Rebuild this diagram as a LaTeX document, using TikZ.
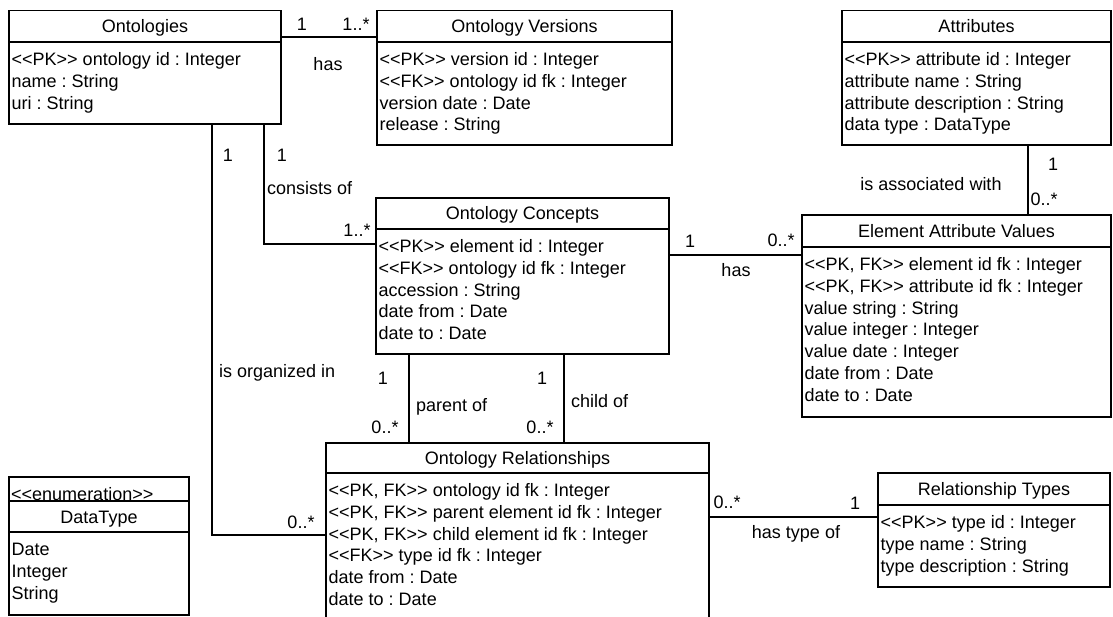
\documentclass[tikz,border=0pt]{standalone}
\usepackage{fontspec}
\newfontfamily\umlfont{Liberation Sans}
\usetikzlibrary{calc}
\frenchspacing
\tikzset{
  umlbox/.style={draw=black, line width=1.3pt, inner sep=0pt, outer sep=0pt, anchor=north west},
  umlframe/.style={inner sep=0pt, outer sep=0pt, anchor=north west},
  umlline/.style={draw=black, line width=1.3pt},
  conn/.style={draw=black, line width=1.2pt},
  umltitle/.style={anchor=base, inner sep=0pt},
  umlattr/.style={anchor=base west, inner sep=0pt},
  lbl/.style={anchor=base, inner sep=0pt},
  lblw/.style={anchor=base west, inner sep=0pt}
}
% #1 name, #2 left, #3 top, #4 right, #5 header line, #6 bottom, #7 title, #8 attributes
\newcommand\umlclass[8]{%
  \node[umlbox, minimum width={#4-#2}, minimum height={#6-#3}] (#1) at (#2,#3) {};
  \draw[umlline] (#1.north west) ++(0,{#5-#3}) -- ++({#4-#2},0);
  \node[umltitle] (#1-title) at ({(#2+#4)/2},{(#3+#5)/2+6.5}) {#7};
  \foreach \t [count=\i] in {#8} {
    \node[umlattr] (#1-a\i) at ({#2+2.5},{#5+23.5+21.8*(\i-1)}) {\t};
  }
}
\begin{document}
\begin{tikzpicture}[x=1pt, y=-1pt, font=\umlfont\fontsize{18pt}{21.8pt}\selectfont\frenchspacing]
\useasboundingbox (0,0) rectangle (1113,617);
\fill[white] (0,0) rectangle (1113,617);

% classes
\umlclass{ont}{9}{10.5}{281}{42}{124}{Ontologies}%
  {{<<PK>> ontology id : Integer},{name : String},{uri : String}}
\umlclass{ver}{377}{10.5}{672}{42}{145}{Ontology Versions}%
  {{<<PK>> version id : Integer},{<<FK>> ontology id fk : Integer},{version date : Date},{release : String}}
\umlclass{attr}{842}{10.5}{1111}{42}{145}{Attributes}%
  {{<<PK>> attribute id : Integer},{attribute name : String},{attribute description : String},{data type : DataType}}
\umlclass{con}{376}{198}{669}{229}{354}{Ontology Concepts}%
  {{<<PK>> element id : Integer},{<<FK>> ontology id fk : Integer},{accession : String},{date from : Date},{date to : Date}}
\umlclass{eav}{802}{215}{1111}{247}{417}{Element Attribute Values}%
  {{<<PK, FK>> element id fk : Integer},{<<PK, FK>> attribute id fk : Integer},{value string : String},{value integer : Integer},{value date : Integer},{date from : Date},{date to : Date}}
\umlclass{typ}{878}{473}{1110}{505}{587}{Relationship Types}%
  {{<<PK>> type id : Integer},{type name : String},{type description : String}}

% Ontology Relationships (cut at the bottom of the picture)
\node[umlframe, minimum width=383, minimum height=178] (rel) at (326,443) {};
\draw[umlline] (rel.south west) -- (rel.north west) -- (rel.north east) -- (rel.south east);
\draw[umlline] (rel.north west) ++(0,30) -- ++(383,0);
\node[umltitle] (rel-title) at (517.5,464.5) {Ontology Relationships};
\foreach \t [count=\i] in {{<<PK, FK>> ontology id fk : Integer},{<<PK, FK>> parent element id fk : Integer},{<<PK, FK>> child element id fk : Integer},{<<FK>> type id fk : Integer},{date from : Date},{date to : Date}} {
  \node[umlattr] (rel-a\i) at (328.5,{496.5+21.8*(\i-1)}) {\t};
}

% DataType enumeration
\node[umlbox, minimum width=180, minimum height=138] (dt) at (9,477) {};
\draw[umlline] (dt.north west) ++(0,24) -- ++(180,0);
\draw[umlline] (dt.north west) ++(0,55) -- ++(180,0);
\node[lblw] (dt-st) at (11,500) {<<enumeration>>};
\node[umltitle] (dt-title) at (99,523.5) {DataType};
\foreach \t [count=\i] in {Date,Integer,String} {
  \node[umlattr] (dt-a\i) at (11.5,{555.5+21.8*(\i-1)}) {\t};
}

% connectors
\coordinate (hasA) at ([yshift=-26.5pt]ont.north east);
\draw[conn] (hasA) -- (hasA -| ver.west);
\coordinate (consA) at ([xshift=-17pt]ont.south east);
\coordinate (consB) at ([yshift=-46pt]con.north west);
\draw[conn] (consA) |- (consB);
\coordinate (orgA) at ([xshift=203pt]ont.south west);
\coordinate (orgB) at ([yshift=-92pt]rel.north west);
\draw[conn] (orgA) |- (orgB);
\coordinate (hasB) at ([yshift=-57pt]con.north east);
\draw[conn] (hasB) -- (hasB -| eav.west);
\coordinate (assocA) at ([xshift=186pt]attr.south west);
\draw[conn] (assocA) -- (assocA |- eav.north);
\coordinate (parA) at ([xshift=33pt]con.south west);
\draw[conn] (parA) -- (parA |- rel.north);
\coordinate (chA) at ([xshift=188pt]con.south west);
\draw[conn] (chA) -- (chA |- rel.north);
\coordinate (typA) at ([yshift=-74pt]rel.north east);
\draw[conn] (typA) -- (typA -| typ.west);

% labels
\node[lbl] (m1) at (302,31) {1};
\node[lbl] (m2) at (356,31) {1..*};
\node[lbl] (n1) at (328,70.5) {has};
\node[lbl] (m3) at (228,161.5) {1};
\node[lbl] (m4) at (282,161.5) {1};
\node[lblw] (n2) at (267,195) {consists of};
\node[lbl] (m5) at (357,237) {1..*};
\node[lblw] (n3) at (219,377) {is organized in};
\node[lbl] (m6) at (301,528) {0..*};
\node[lbl] (m7) at (690,248) {1};
\node[lbl] (m8) at (781,247) {0..*};
\node[lbl] (n4) at (736,277) {has};
\node[lbl] (m9) at (1053,171) {1};
\node[lbl] (m10) at (1044,206) {0..*};
\node[lbl] (n5) at (931,191) {is associated with};
\node[lbl] (m11) at (383,384) {1};
\node[lbl] (m12) at (385,433) {0..*};
\node[lblw] (n6) at (416,411) {parent of};
\node[lbl] (m13) at (542,384) {1};
\node[lbl] (m14) at (540,433) {0..*};
\node[lblw] (n7) at (571,407) {child of};
\node[lbl] (m15) at (727,508) {0..*};
\node[lbl] (m16) at (855,509) {1};
\node[lbl] (n8) at (796,538) {has type of};
\end{tikzpicture}
\end{document}
